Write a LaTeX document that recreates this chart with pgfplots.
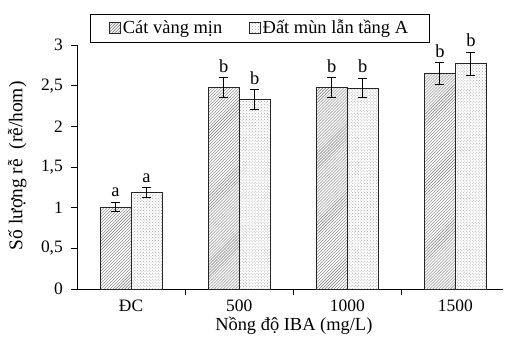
\documentclass[border=0pt]{standalone}
\usepackage{fontspec}
\setmainfont{Liberation Serif}
\usepackage{pgfplots}
\pgfplotsset{compat=1.18}
\usetikzlibrary{patterns}
\begin{document}
\fontsize{18}{21}\selectfont
\begin{tikzpicture}
\begin{axis}[
  scale only axis,
  width=426bp, height=244bp,
  xmin=-0.5, xmax=3.44,
  ymin=0, ymax=3,
  axis x line=bottom, axis y line=left,
  axis line style={-, line width=0.9pt},
  ytick={0,0.5,...,3},
  yticklabel style={/pgf/number format/use comma, /pgf/number format/assume math mode=true, font=\fontsize{17.5}{20}\selectfont, xshift=-2bp},
  tick align=outside,
  major tick length=6bp,
  tick style={black, line width=0.8pt},
  xtick={0.5,1.5,2.5}, xticklabels={},
  extra x ticks={0,1,2,3},
  extra x tick labels={ĐC,500,1000,1500},
  extra x tick style={major tick length=0pt},
  xticklabel style={yshift=-5bp, font=\fontsize{17.5}{20}\selectfont},
  ylabel={Số lượng rễ\ \ (rễ/hom)},
  xlabel={Nồng độ IBA (mg/L)},
  ylabel style={at={(axis description cs:-0.14,0.505)}, anchor=center, rotate=0, font=\fontsize{19.5}{22}\selectfont},
  xlabel style={at={(axis description cs:0.509,-0.172)}, anchor=base, font=\fontsize{18.5}{21}\selectfont},
  legend style={at={(0.0305,1.008)}, anchor=south west, legend columns=2,
    draw=black, line width=0.9pt, font=\fontsize{18.5}{21}\selectfont,
    /tikz/every even column/.append style={column sep=25bp},
    inner xsep=19bp, inner ysep=4bp},
  legend image code/.code={\draw[#1, line width=0.5pt] (0bp,-5bp) rectangle (11bp,6bp);},
]
\addplot[ybar, bar width=0.287, bar shift=0pt, draw=black!85, line width=0.7pt,
  pattern=north east lines, pattern color=black!55,
  error bars/.cd, y dir=both, y explicit, error bar style={line width=0.9pt, black}, error mark options={rotate=90, mark size=4.5bp, line width=0.9pt}]
  coordinates {(-0.1435,1.01) +- (0,0.06) (0.8565,2.48) +- (0,0.12) (1.8565,2.48) +- (0,0.12) (2.8565,2.65) +- (0,0.13)};
\addlegendentry{Cát vàng mịn}
\addplot[ybar, bar width=0.287, bar shift=0pt, draw=black!85, line width=0.7pt,
  pattern=crosshatch dots, pattern color=black!35,
  error bars/.cd, y dir=both, y explicit, error bar style={line width=0.9pt, black}, error mark options={rotate=90, mark size=4.5bp, line width=0.9pt}]
  coordinates {(0.1435,1.185) +- (0,0.06) (1.1435,2.33) +- (0,0.12) (2.1435,2.47) +- (0,0.12) (3.1435,2.77) +- (0,0.14)};
\addlegendentry{Đất mùn lẫn tầng A}
\addplot[only marks, mark=none, nodes near coords, point meta=explicit symbolic,
  nodes near coords style={anchor=south, inner sep=2bp, yshift=3bp, font=\fontsize{18.5}{21}\selectfont}, forget plot]
  coordinates {(-0.1435,1.07) [a] (0.8565,2.60) [b] (1.8565,2.60) [b] (2.8565,2.78) [b]
               (0.1435,1.245) [a] (1.1435,2.45) [b] (2.1435,2.59) [b] (3.1435,2.91) [b]};
\end{axis}
\pgfresetboundingbox
\path ([xshift=-77bp,yshift=-56bp]current axis.south west) rectangle ([xshift=2bp,yshift=45bp]current axis.north east);
\end{tikzpicture}
\end{document}
